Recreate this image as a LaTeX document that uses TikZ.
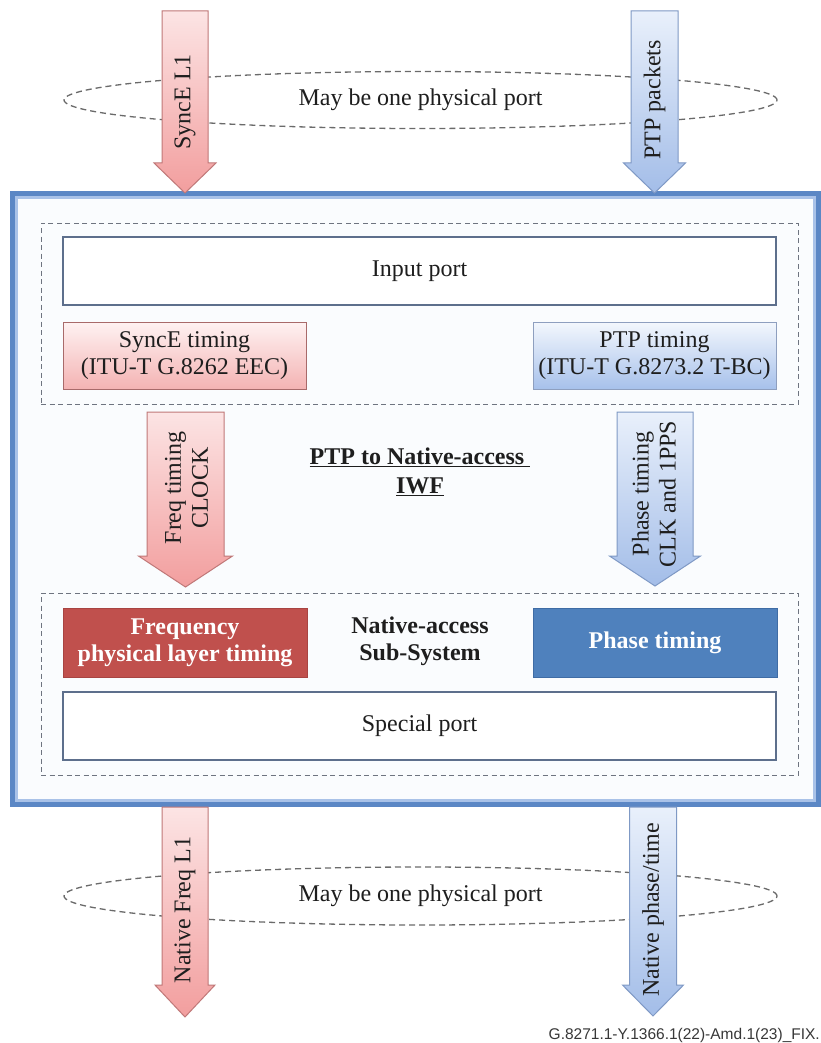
\documentclass[tikz,border=0pt]{standalone}
\usepackage{fontspec}
\setmainfont{Liberation Serif}
\newfontfamily\footfont{Liberation Sans}
\usetikzlibrary{shapes.geometric}

\definecolor{mainBlue}{HTML}{5B87C5}
\definecolor{mainLight}{HTML}{A9C2E8}
\definecolor{mainFill}{HTML}{FAFCFE}
\definecolor{portLine}{HTML}{5D6F8C}
\definecolor{dashGray}{HTML}{6E7480}
\definecolor{ellGray}{HTML}{6A6A6A}
\definecolor{redTop}{HTML}{FCE4E4}
\definecolor{redBot}{HTML}{F29E9E}
\definecolor{redLine}{HTML}{C07878}
\definecolor{blueTop}{HTML}{E9F0FB}
\definecolor{blueBot}{HTML}{A3BDE8}
\definecolor{blueLine}{HTML}{7F99C5}
\definecolor{syncTop}{HTML}{FEF2F2}
\definecolor{syncBot}{HTML}{F4B3B3}
\definecolor{syncLine}{HTML}{A86A6A}
\definecolor{ptpTop}{HTML}{F3F7FD}
\definecolor{ptpBot}{HTML}{A7C1EB}
\definecolor{ptpLine}{HTML}{8E9FBF}
\definecolor{freqFill}{HTML}{C0504D}
\definecolor{freqLine}{HTML}{A84442}
\definecolor{phaseFill}{HTML}{4F81BD}
\definecolor{phaseLine}{HTML}{3F6CA5}
\definecolor{txt}{HTML}{1E1E1E}

\newcommand\myarrow[7]{%
  \path[#1] ({#2-#6},#3) -- ({#2+#6},#3) -- ({#2+#6},#4) -- ({#2+#7},#4)
    -- (#2,#5) -- ({#2-#7},#4) -- ({#2-#6},#4) -- cycle;}

\begin{document}
\begin{tikzpicture}[x=1pt,y=-1pt,
  every node/.style={font=\fontsize{24}{27}\selectfont, inner sep=0pt, text=txt},
  mainbox/.style={draw=mainBlue, line width=8pt, fill=mainFill, minimum width=803pt, minimum height=608pt, outer sep=0pt},
  group/.style={draw=dashGray, line width=1pt, dash pattern=on 5pt off 3.5pt, minimum width=757pt, minimum height=181pt},
  portbox/.style={draw=portLine, line width=1.3pt, fill=white, minimum width=713pt, minimum height=68pt},
  syncbox/.style={draw=syncLine, line width=1pt, top color=syncTop, bottom color=syncBot, minimum width=243pt, minimum height=67pt, align=center},
  ptpbox/.style={draw=ptpLine, line width=1pt, top color=ptpTop, bottom color=ptpBot, minimum width=243pt, minimum height=67pt, align=center},
  freqbox/.style={draw=freqLine, line width=1pt, fill=freqFill, minimum width=244pt, minimum height=69pt, align=center, text=white, font=\fontsize{24}{27}\selectfont\bfseries},
  phasebox/.style={draw=phaseLine, line width=1pt, fill=phaseFill, minimum width=244pt, minimum height=69pt, align=center, text=white, font=\fontsize{24}{27}\selectfont\bfseries},
  portell/.style={ellipse, draw=ellGray, line width=1.3pt, dash pattern=on 6pt off 4pt, minimum width=713pt, minimum height=57pt},
  redarr/.style={draw=redLine, line width=1pt, top color=redTop, bottom color=redBot},
  bluearr/.style={draw=blueLine, line width=1pt, top color=blueTop, bottom color=blueBot},
  arrlabel/.style={rotate=90, align=center}
]
\useasboundingbox (0,0) rectangle (821,1043);
\fill[white] (0,0) rectangle (821,1043);

% main IWF box
\node[mainbox] (main) at (415.5,499) {};
\draw[mainLight, line width=2.6pt] ([shift={(2.6,2.6)}]main.north west) rectangle ([shift={(-2.6,-2.6)}]main.south east);

% groups
\node[group] (ingroup) at (419.5,313.5) {};
\node[group, minimum height=182pt] (natgroup) at (419.5,684) {};

% boxes
\node[portbox] (input) at (419.5,271) {Input port};
\node[syncbox] (synct) at (184.5,355.5) {SyncE timing\\(ITU-T G.8262 EEC)};
\node[ptpbox] (ptpt) at (654.5,355.5) {PTP timing\\(ITU-T G.8273.2 T-BC)};
\node[freqbox] (freq) at (185,642.5) {Frequency\\physical layer timing};
\node[phasebox] (phase) at (655,642.5) {Phase timing};
\node[portbox] (special) at (419.5,726) {Special port};

\node[align=center, font=\fontsize{24}{29}\selectfont\bfseries] (iwf) at (420,472) {\underline{PTP to Native-access\ }\\\underline{IWF}};
\node[align=center, font=\fontsize{24}{27}\selectfont\bfseries] (nas) at (420,641) {Native-access\\Sub-System};

% ellipses
\node[portell] (topell) at (420.5,100) {May be one physical port};
\node[portell, minimum height=58pt] (botell) at (420.5,896) {May be one physical port};

% arrows
\myarrow{redarr}{185}{11}{163}{193}{23}{31}
\node[arrlabel] (a1) at (185,102) {SyncE L1};
\myarrow{bluearr}{654.5}{11}{163}{193}{23.5}{31}
\node[arrlabel] (a2) at (654.5,100) {PTP packets};

\myarrow{redarr}{185.5}{412}{556}{587}{38.5}{47}
\node[arrlabel] (a3) at (186.5,488) {Freq timing\\CLOCK};
\myarrow{bluearr}{655}{412}{556}{586}{38}{45.5}
\node[arrlabel] (a4) at (654,494) {Phase timing\\CLK and 1PPS};

\myarrow{redarr}{185}{807}{985}{1017}{23}{30}
\node[arrlabel] (a5) at (185,910) {Native Freq L1};
\myarrow{bluearr}{653}{807}{985}{1016}{23.5}{30.5}
\node[arrlabel] (a6) at (653,910) {Native phase/time};

% figure id
\node[anchor=base east, text=black!78, font=\footfont\fontsize{15.5}{18}\selectfont] (figid) at (820,1039) {G.8271.1-Y.1366.1(22)-Amd.1(23)\_FIX.};
\end{tikzpicture}
\end{document}
